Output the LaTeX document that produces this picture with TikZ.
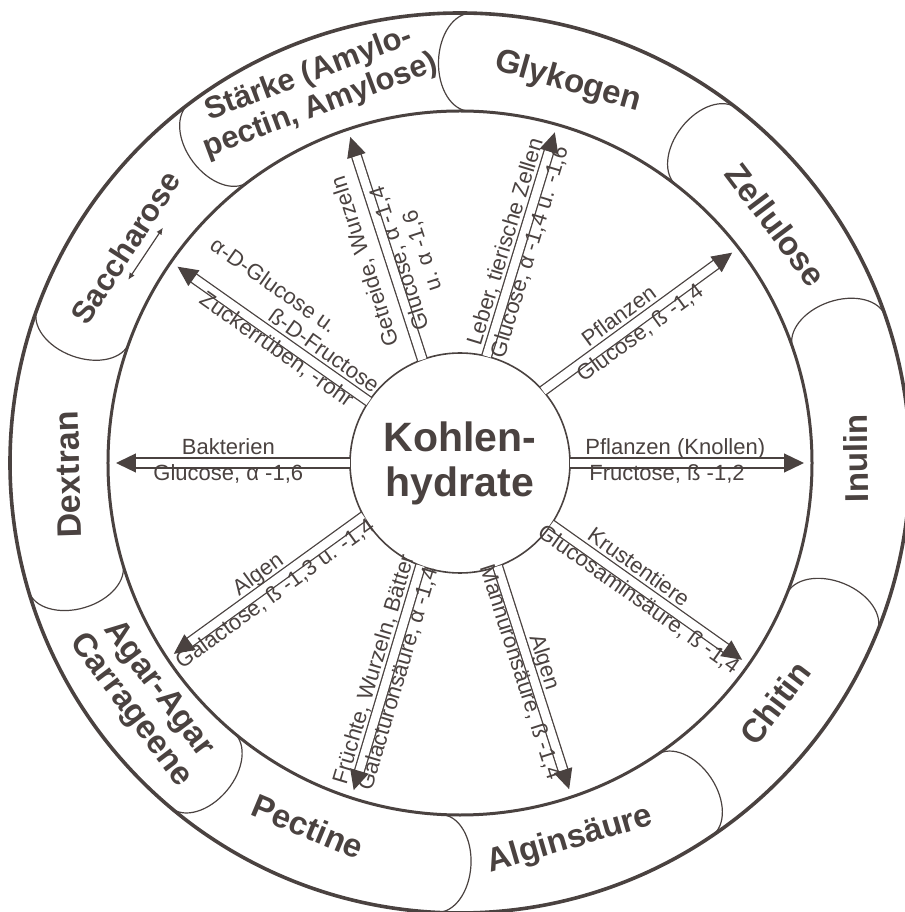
\documentclass[tikz,border=0pt]{standalone}
\usepackage{fontspec}
\setmainfont{Liberation Sans}
\usetikzlibrary{arrows.meta, positioning}
\definecolor{ink}{HTML}{4A4240}

\begin{document}
\begin{tikzpicture}[x=1pt, y=1pt,
  ring/.style={draw=ink, line width=3pt},
  fieldend/.style={draw=ink, line width=1.2pt},
  seg/.style={text=ink, font=\fontsize{33}{35}\selectfont\bfseries, align=center, inner sep=0pt},
  arr/.style={draw=ink, line width=1.3pt, double=white, double distance=8.5pt, -{Triangle[length=20pt, width=19pt]}},
  labtext/.style={text=ink, font=\fontsize{22}{24}\selectfont, inner sep=1pt, text height=0.75em, text depth=0.25em},
  lab/.style={labtext, sloped},
  src/.style={lab, above, outer sep=5pt},
  bond/.style={lab, below, outer sep=9pt},
  twoway/.style={draw=ink, line width=1.2pt, {Latex[length=7pt, width=6pt]}-{Latex[length=7pt, width=6pt]}}
]
  \useasboundingbox (-460,-449) rectangle (444,463);

  % rounded ends of the fields in the ring
  \foreach \a in {88.5, 52, 19, -22, -56, -93, -130, -163.5, 160, 127}
    \draw[fieldend, rotate=\a] (450,0) arc[start angle=0, end angle=180, x radius=49, y radius=32];

  \draw[ring, line width=3.6pt] (0,0) circle[radius=450];
  \draw[ring] (0,0) circle[radius=352];

  % polysaccharides
  \node[seg, rotate=20.5, font=\fontsize{31}{34}\selectfont\bfseries] (staerke) at (111.3:400) {Stärke (Amylo-\\pectin, Amylose)};
  \node[seg, rotate=-15.8] (glykogen) at (74.2:396) {Glykogen};
  \node[seg, rotate=-53] (zellulose) at (37:396) {Zellulose};
  \node[seg, rotate=90.7] (inulin) at (0.7:396) {Inulin};
  \node[seg, rotate=52.7] (chitin) at (-37.3:396) {Chitin};
  \node[seg, rotate=16.3] (alginsaeure) at (-73.7:393) {Alginsäure};
  \node[seg, rotate=-22.7] (pectine) at (-112.7:394) {Pectine};
  \node[seg, rotate=-53.1] (agar) at (-143.1:395) {Agar-Agar\\Carrageene};
  \node[seg, rotate=91.7, font=\fontsize{34}{36}\selectfont\bfseries] (dextran) at (181.7:392) {Dextran};
  \node[seg, rotate=57.2, font=\fontsize{31}{34}\selectfont\bfseries] (saccharose) at (147.2:398) {Saccharose};

  \coordinate (sac-a) at (151.1:379);
  \coordinate (sac-b) at (141.6:379);
  \draw[twoway] (sac-a) -- (sac-b);

  % centre
  \node[circle, draw=ink, line width=1.6pt, minimum size=220pt, inner sep=0pt, outer sep=0pt,
        text=ink, font=\fontsize{41}{45}\selectfont\bfseries, align=center] (kh) at (0,0) {Kohlen-\\hydrate};

  \foreach \n/\a in {st/108.6, gl/74, ze/37.7, in/0, ch/-34.9, al/-71.5, pe/-108, ag/-146.3, de/180, sa/145.2}
    \coordinate (tip-\n) at (\a:344);

  \draw[arr] (kh.110) -- (tip-st);
  \node[labtext, rotate=108] (src-st) at (-90.9,202.8) {Getreide, Wurzeln};
  \node[labtext, rotate=108, align=center] (bond-st) at (-33.6,213.5) {Glucose, α -1,4\\u. α -1,6};
  \draw[arr] (kh.76) -- node[src, pos=.49] (src-gl) {Leber, tierische Zellen}
    node[bond, pos=.48] (bond-gl) {Glucose, α -1,4 u. -1,6} (tip-gl);
  \draw[arr] (kh.41) -- node[src, pos=.45] (src-ze) {Pflanzen}
    node[bond, pos=.48] (bond-ze) {Glucose, ß -1,4} (tip-ze);
  \draw[arr] (kh.0) -- node[src, pos=.04, anchor=south west] (src-in) {Pflanzen (Knollen)}
    node[bond, pos=.04, anchor=north west] (bond-in) {Fructose, ß -1,2} (tip-in);
  \draw[arr] (kh.-34) -- node[src, pos=.41] (src-ch) {Krustentiere}
    node[bond, pos=.49] (bond-ch) {Glucosaminsäure, ß -1,4} (tip-ch);
  \draw[arr] (kh.-70) -- node[src, pos=.45] (src-al) {Algen}
    node[bond, pos=.46] (bond-al) {Mannuronsäure, ß -1,4} (tip-al);
  \draw[arr] (kh.-111) -- node[src, pos=.48] (src-pe) {Früchte, Wurzeln, Bätter}
    node[bond, pos=.49] (bond-pe) {Galacturonsäure, α -1,4} (tip-pe);
  \draw[arr] (kh.-151) -- node[src, pos=.51] (src-ag) {Algen}
    node[bond, pos=.5] (bond-ag) {Galactose, ß -1,3 u. -1,4} (tip-ag);
  \draw[arr] (kh.180) -- node[src, pos=.52] (src-de) {Bakterien}
    node[bond, pos=.52] (bond-de) {Glucose, α -1,6} (tip-de);
  \draw[arr] (kh.146.6) -- node[src, pos=.47, align=left] (src-sa) {α-D-Glucose u.\\\hspace*{88pt}ß-D-Fructose}
    node[bond, pos=.45] (bond-sa) {Zuckerrüben, -rohr} (tip-sa);
\end{tikzpicture}
\end{document}
